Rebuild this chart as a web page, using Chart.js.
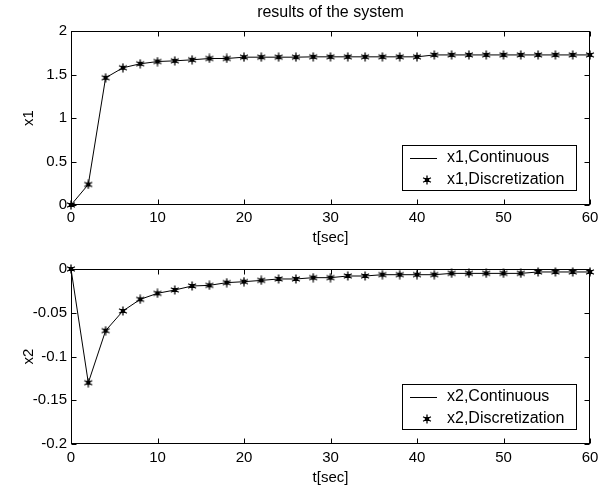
<!DOCTYPE html>
<html>
<head>
<meta charset="utf-8">
<title>results of the system</title>
<script src="https://cdn.jsdelivr.net/npm/chart.js@4"></script>
<style>
  html, body { margin: 0; padding: 0; background: #fff; }
  #wrap { position: relative; width: 598px; height: 490px; }
  .panel { position: absolute; left: 0; width: 598px; height: 245px; }
</style>
</head>
<body>
<div id="wrap">
  <div class="panel" style="top:0"><canvas id="topChart" width="598" height="245"></canvas></div>
  <div class="panel" style="top:245px"><canvas id="bottomChart" width="598" height="245"></canvas></div>
</div>
<script>
'use strict';

/* --- Data --- */
const time = [0, 2, 4, 6, 8, 10, 12, 14, 16, 18, 20, 22, 24, 26, 28, 30,
              32, 34, 36, 38, 40, 42, 44, 46, 48, 50, 52, 54, 56, 58, 60];
const x1Values = [0, 0.236, 1.462, 1.577, 1.623, 1.649, 1.657, 1.669, 1.684, 1.684,
                  1.699, 1.699, 1.699, 1.699, 1.703, 1.703, 1.703, 1.703, 1.703, 1.703,
                  1.703, 1.725, 1.725, 1.725, 1.725, 1.725, 1.725, 1.725, 1.725, 1.725, 1.725];
const x2Values = [0, -0.130, -0.0705, -0.048, -0.0347, -0.0278, -0.024, -0.0194, -0.0187, -0.0156,
                  -0.0145, -0.013, -0.0114, -0.0114, -0.0099, -0.0099, -0.008, -0.008, -0.0065, -0.0065,
                  -0.0065, -0.0065, -0.005, -0.005, -0.005, -0.005, -0.005, -0.0034, -0.0034, -0.0034, -0.0034];
const xTickLabels = ['0', '10', '20', '30', '40', '50', '60'];
const x1TickLabels = ['0', '0.5', '1', '1.5', '2'];
const x2TickLabels = ['-0.2', '-0.15', '-0.1', '-0.05', '0'];

const FONT = '"Liberation Sans", Arial, Helvetica, sans-serif';
const tickFont = { family: FONT, size: 15, lineHeight: 1 };
const labelFont = { family: FONT, size: 15, lineHeight: 1 };

/* --- MATLAB-like asterisk marker --- */
function makeStar(size) {
  const c = document.createElement('canvas');
  c.width = c.height = size;
  const g = c.getContext('2d');
  const r = size / 2;
  g.strokeStyle = '#000';
  g.lineWidth = 1.3;
  g.beginPath();
  for (let k = 0; k < 3; k++) {
    const a = Math.PI / 2 + k * Math.PI / 3;
    const dx = Math.cos(a) * (r - 0.5), dy = Math.sin(a) * (r - 0.5);
    g.moveTo(r + dx, r + dy);
    g.lineTo(r - dx, r - dy);
  }
  g.stroke();
  g.fillStyle = '#000';
  g.fillRect(r - 2, r - 2, 4, 4);
  return c;
}
const star = makeStar(10);

/* --- Title centred over the axes --- */
const axesTitle = {
  id: 'axesTitle',
  afterDraw(chart, args, opts) {
    if (!opts.text) return;
    const { ctx, chartArea: a } = chart;
    ctx.save();
    ctx.fillStyle = '#000';
    ctx.font = '16px ' + FONT;
    ctx.textAlign = 'center';
    ctx.textBaseline = 'middle';
    ctx.fillText(opts.text, (a.left + a.right) / 2, 13);
    ctx.restore();
  }
};

/* --- Axes box with inward ticks --- */
const axesBox = {
  id: 'axesBox',
  afterDatasetsDraw(chart) {
    const { ctx, chartArea: a, scales } = chart;
    const L = Math.round(a.left) + 0.5, R = Math.round(a.right) - 0.5;
    const T = Math.round(a.top) + 0.5, B = Math.round(a.bottom) - 0.5;
    const len = 5;
    ctx.save();
    ctx.strokeStyle = '#000';
    ctx.lineWidth = 1;
    ctx.strokeRect(L, T, R - L, B - T);
    ctx.beginPath();
    scales.x.ticks.forEach(t => {
      const px = Math.round(scales.x.getPixelForValue(t.value)) + 0.5;
      ctx.moveTo(px, B); ctx.lineTo(px, B - len);
      ctx.moveTo(px, T); ctx.lineTo(px, T + len);
    });
    scales.y.ticks.forEach(t => {
      const py = Math.round(scales.y.getPixelForValue(t.value)) + 0.5;
      ctx.moveTo(L, py); ctx.lineTo(L + len, py);
      ctx.moveTo(R, py); ctx.lineTo(R - len, py);
    });
    ctx.stroke();
    ctx.restore();
  }
};

/* --- Boxed legend inside the lower right corner --- */
const boxLegend = {
  id: 'boxLegend',
  afterDraw(chart) {
    const { ctx, chartArea: a } = chart;
    const w = 174, h = 45;
    const right = Math.round(a.right) - 14, bottom = Math.round(a.bottom) - 15;
    const left = right - w, top = bottom - h;
    const [lineSet, starSet] = chart.data.datasets;
    ctx.save();
    ctx.fillStyle = '#fff';
    ctx.fillRect(left, top, w, h);
    ctx.strokeStyle = '#000';
    ctx.lineWidth = 1;
    ctx.strokeRect(left + 0.5, top + 0.5, w, h);
    const y1 = top + 12.5, y2 = top + 34.5;
    ctx.beginPath();
    ctx.moveTo(left + 8, Math.round(y1) + 0.5);
    ctx.lineTo(left + 35, Math.round(y1) + 0.5);
    ctx.stroke();
    ctx.drawImage(star, left + 25 - star.width / 2, Math.round(y2) - star.height / 2);
    ctx.fillStyle = '#000';
    ctx.font = '16px ' + FONT;
    ctx.textBaseline = 'middle';
    ctx.textAlign = 'left';
    ctx.fillText(lineSet.label, left + 45, y1);
    ctx.fillText(starSet.label, left + 45, y2);
    ctx.restore();
  }
};

function buildChart(canvasId, opts) {
  const points = time.map((t, i) => ({ x: t, y: opts.values[i] }));
  return new Chart(document.getElementById(canvasId), {
    type: 'line',
    data: {
      datasets: [
        { label: opts.name + ',Continuous', data: points, borderColor: '#000', borderWidth: 1,
          pointRadius: 0, fill: false, tension: 0, clip: false },
        { label: opts.name + ',Discretization', data: points, showLine: false,
          pointStyle: star, pointRadius: 5, clip: false }
      ]
    },
    options: {
      responsive: false,
      animation: false,
      events: [],
      layout: { padding: { top: opts.padTop, right: 8, left: 0, bottom: 0 } },
      plugins: {
        legend: { display: false },
        tooltip: { enabled: false },
        title: { display: false },
        axesTitle: { text: opts.title }
      },
      scales: {
        x: {
          type: 'linear', min: 0, max: 60,
          grid: { display: false, drawTicks: false }, border: { display: false },
          ticks: { stepSize: 10, padding: opts.xTickPad, color: '#000', font: tickFont, maxRotation: 0, autoSkip: false,
                   callback: (v, i) => xTickLabels[i] },
          title: { display: true, text: 't[sec]', color: '#000', font: labelFont, padding: { top: 0, bottom: opts.xTitlePad } },
          afterFit(s) { s.height = opts.xHeight; s.paddingLeft = 0; s.paddingRight = 0; }
        },
        y: {
          type: 'linear', min: opts.yMin, max: opts.yMax,
          grid: { display: false, drawTicks: false }, border: { display: false },
          ticks: { stepSize: opts.yStep, padding: 4, color: '#000', font: tickFont, autoSkip: false,
                   callback: (v, i) => opts.yLabels[i] },
          title: { display: true, text: opts.name, color: '#000', font: labelFont, padding: { top: 21, bottom: 0 } },
          afterFit(s) { s.width = 71; s.paddingTop = 0; s.paddingBottom = 0; }
        }
      }
    },
    plugins: [axesBox, boxLegend, axesTitle]
  });
}

buildChart('topChart', {
  name: 'x1', values: x1Values, yMin: 0, yMax: 2, yStep: 0.5, yLabels: x1TickLabels,
  title: 'results of the system', padTop: 31, xHeight: 40, xTickPad: 5, xTitlePad: -0.5
});
buildChart('bottomChart', {
  name: 'x2', values: x2Values, yMin: -0.2, yMax: 0, yStep: 0.05, yLabels: x2TickLabels,
  title: null, padTop: 24, xHeight: 46, xTickPad: 6.5, xTitlePad: 4.5
});
</script>
</body>
</html>
